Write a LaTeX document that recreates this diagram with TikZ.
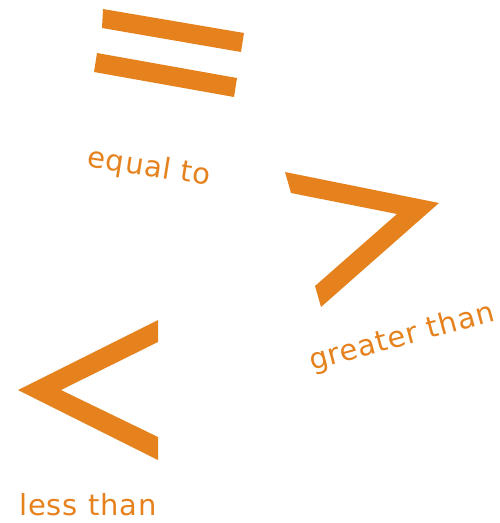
\documentclass[tikz,border=0pt]{standalone}
\usepackage{fontspec}
\setmainfont{DejaVu Sans}[LetterSpace=3]
\definecolor{sym}{RGB}{230,130,30}
\begin{document}
\begin{tikzpicture}[x=1pt,y=-1pt,
  glyph/.style={fill=sym,draw=none},
  lbl/.style={text=sym,font=\fontsize{29}{31}\selectfont,inner sep=0pt}]
\useasboundingbox (0,0) rectangle (500,523);
% equal sign
\fill[glyph] (103,9) -- (244,33) -- (241,52) -- (102,28) -- cycle;
\fill[glyph] (97,53) -- (237,78) -- (234,97) -- (94,72) -- cycle;
% greater than
\fill[glyph] (285,172) -- (439,203) -- (321,307) -- (315,286) -- (397,214) -- (291,193) -- cycle;
% less than
\fill[glyph] (158,320) -- (18,390) -- (158,460) -- (158,437) -- (61,390) -- (158,342) -- cycle;
% labels
\node[lbl,rotate=-9] (eq) at (149,168) {equal to};
\node[lbl,rotate=15] (gt) at (402,338) {greater than};
\node[lbl] (lt) at (88,505) {less than};
\end{tikzpicture}
\end{document}
